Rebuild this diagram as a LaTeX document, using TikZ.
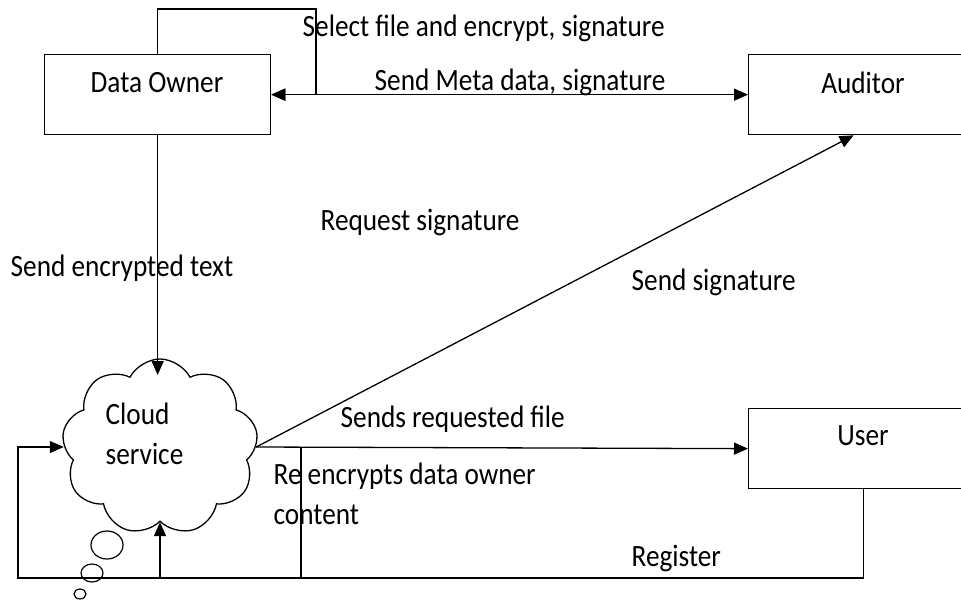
\documentclass[tikz,border=0pt]{standalone}
\usepackage{fontspec}
\setmainfont[FakeStretch=0.88]{Carlito}
\usetikzlibrary{arrows.meta,shapes.symbols,shapes.geometric}
\begin{document}
\begin{tikzpicture}[x=1pt,y=-1pt,
  line width=1.3pt,
  every node/.style={font=\fontsize{31}{39.5}\selectfont, inner sep=0pt},
  box/.style={draw, rectangle, minimum width=230pt, minimum height=80pt, anchor=north west},
  arr/.style={-{Triangle[length=14pt,width=12pt]}},
  darr/.style={{Triangle[length=14pt,width=12pt]}-{Triangle[length=14pt,width=12pt]}},
  lbl/.style={anchor=west},
  bubble/.style={draw, ellipse, line width=1.2pt}]
\useasboundingbox (0,0) rectangle (961,600);

% entities
\node[box, minimum width=226pt] (do) at (44,54) {};
\node (dot) at (157,83) {Data Owner};
\node[box] (aud) at (748,54) {};
\node (audt) at (863,83) {Auditor};
\node[box] (user) at (748,408) {};
\node (usert) at (863,436) {User};

% cloud service with thought bubbles
\node[draw, cloud, cloud puffs=9, cloud puff arc=125, aspect=1.1,
      minimum width=196pt, minimum height=176pt] (cloud) at (160,447) {};
\node[align=left, anchor=west] (cloudt) at (105,434) {Cloud\\service};
\node[bubble, minimum width=32pt, minimum height=28pt] (b1) at (107,545) {};
\node[bubble, minimum width=22pt, minimum height=18pt] (b2) at (92,573) {};
\node[bubble, minimum width=12pt, minimum height=10pt] (b3) at (80,594) {};

% routing points
\coordinate (loopr) at (316,9);
\coordinate (botl) at (18,578);
\coordinate (reen) at (301,578);
\coordinate (cin) at (158,375);

% connectors
\draw[arr] (do.north) |- (loopr) |- (do.east);
\draw[darr] (do.east) -- (aud.west);
\draw[arr] (do.south) -- (do.south |- cin);
\draw[arr] (cloud.east) -- ([xshift=-10pt]aud.south);
\draw[arr] (cloud.east) -- (user.west);
\draw (reen) -- (reen |- cloud.east);
\draw[arr] (user.south) |- (botl) |- (cloud.west);
\draw[arr] (cloud.south |- botl) -- (cloud.south);

% labels
\node[lbl] (l1) at (302,28) {Select file and encrypt, signature};
\node[lbl] (l2) at (374,82) {Send Meta data, signature};
\node[lbl] (l3) at (320,222) {Request signature};
\node[lbl] (l4) at (10,268) {Send encrypted text};
\node[lbl] (l5) at (631,282) {Send signature};
\node[lbl] (l6) at (340,419) {Sends requested file};
\node[lbl, align=left] (l7) at (273,494) {Re encrypts data owner\\content};
\node[lbl] (l8) at (631,558) {Register};
\end{tikzpicture}
\end{document}
